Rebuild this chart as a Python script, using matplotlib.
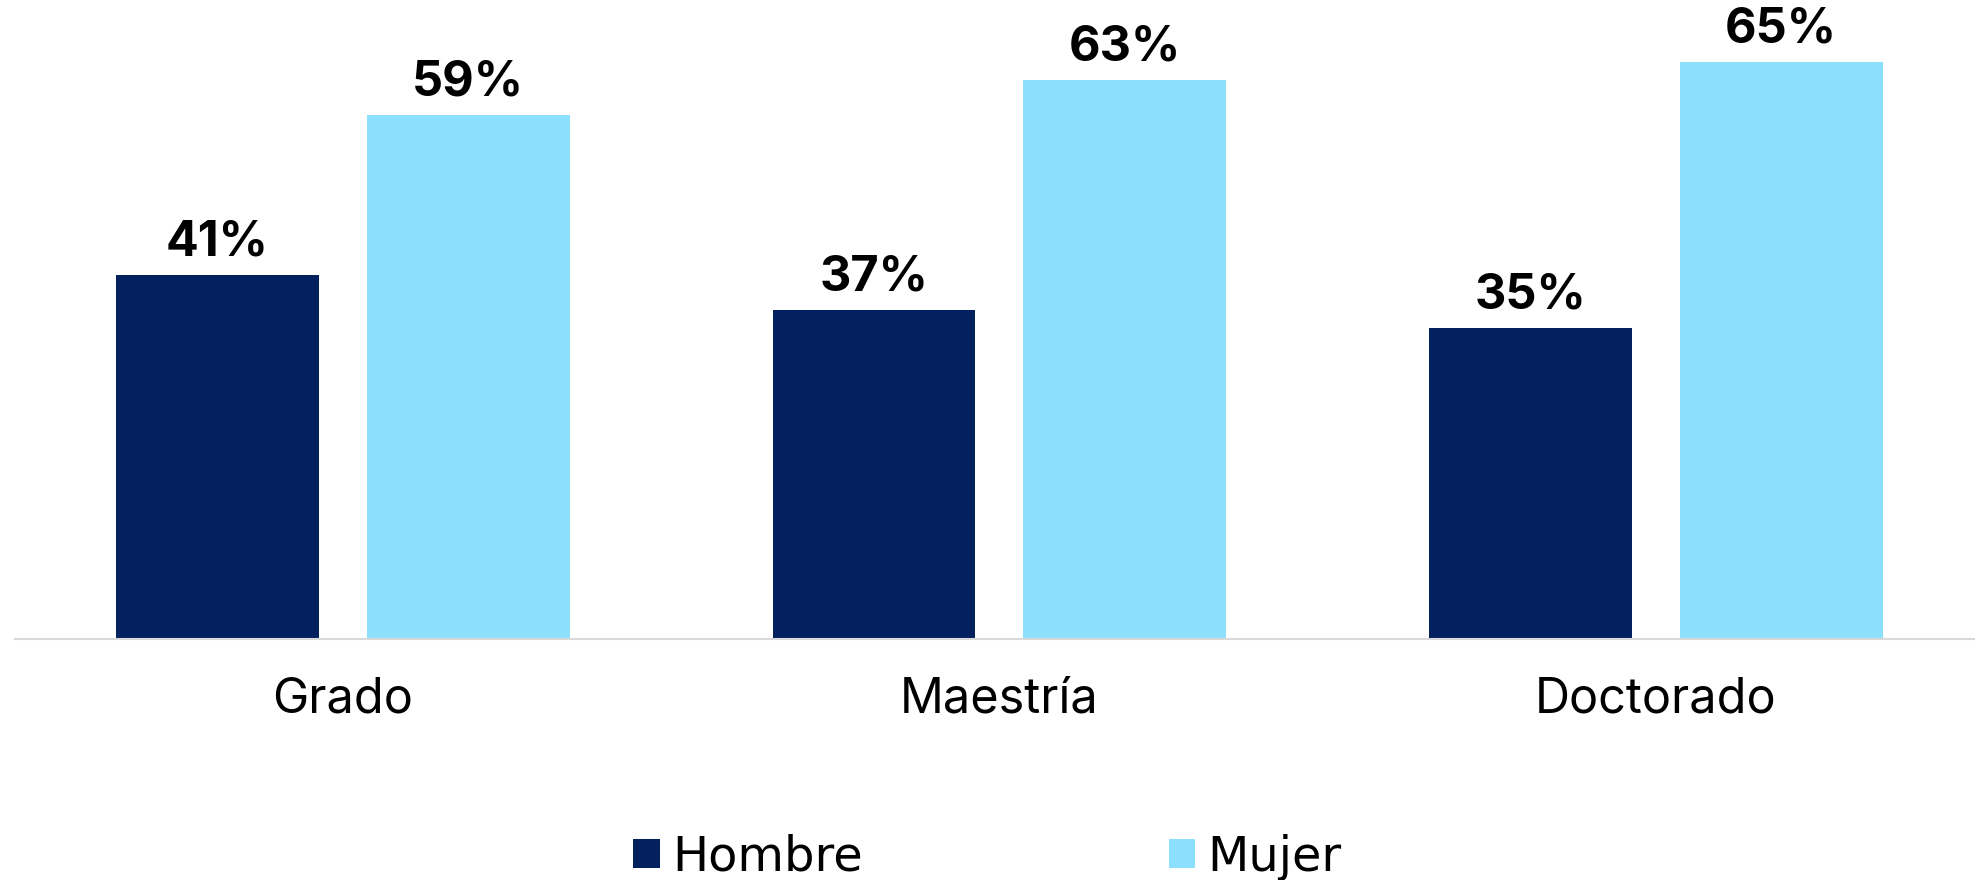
import matplotlib.pyplot as plt
import numpy as np

categories = ['Grado', 'Maestría', 'Doctorado']
hombre = [41, 37, 35]
mujer = [59, 63, 65]
series_names = ['Hombre', 'Mujer']

color_hombre = '#03205F'
color_mujer = '#8DE0FD'

fig = plt.figure(figsize=(19.75, 8.8), dpi=100)
ax = fig.add_axes([0.0074, 0.2744, 0.9972, 0.7256])

x = np.arange(len(categories))
width = 0.309
offset = 0.191

b1 = ax.bar(x - offset, hombre, width, color=color_hombre, label=series_names[0])
b2 = ax.bar(x + offset, mujer, width, color=color_mujer, label=series_names[1])

for bars, vals in [(b1, hombre), (b2, mujer)]:
    for rect, v in zip(bars, vals):
        ax.annotate(f'{v}%', (rect.get_x() + rect.get_width() / 2, rect.get_height()),
                    xytext=(0, 14), textcoords='offset points',
                    ha='center', va='baseline', fontsize=35,
                    fontweight='bold', family='Inter', color='black')

ax.set_xlim(-0.5, 2.5)
ax.set_ylim(0, 72)
ax.set_xticks(x)
ax.set_xticklabels(categories, fontsize=35, family='Inter')
ax.tick_params(axis='x', length=0, pad=27)
ax.set_yticks([])
for s in ['top', 'right', 'left']:
    ax.spines[s].set_visible(False)
ax.spines['bottom'].set_color('#d9d9d9')
ax.spines['bottom'].set_linewidth(1.5)

fig.legend(handles=[b1, b2], labels=series_names, loc='center',
           bbox_to_anchor=(0.5, 0.026), ncol=2, frameon=False,
           prop={'family': 'DejaVu Sans', 'size': 34.5},
           handlelength=0.55, handleheight=0.55, handletextpad=0.25,
           columnspacing=6.4)

fig.savefig('out.png', dpi=100)
